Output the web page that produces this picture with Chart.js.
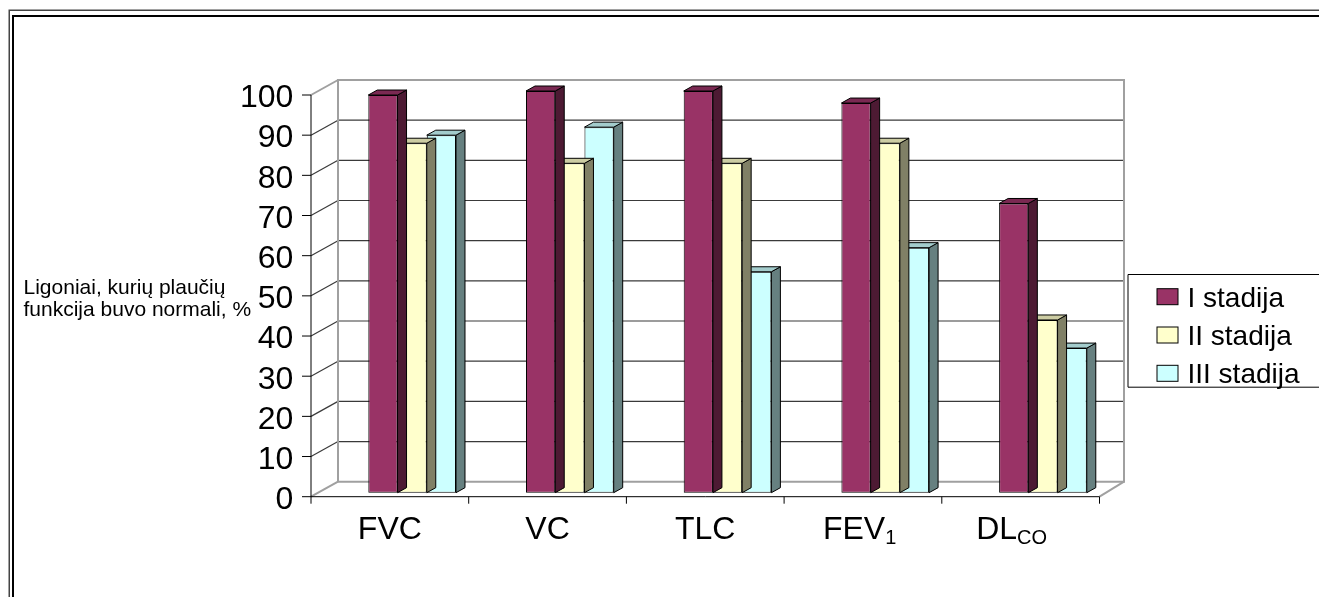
<!DOCTYPE html>
<html>
<head>
<meta charset="utf-8">
<script src="https://cdn.jsdelivr.net/npm/chart.js@4.4.0/dist/chart.umd.min.js"></script>
<style>
  html, body { margin: 0; padding: 0; background: #ffffff; }
  #wrap { width: 1319px; height: 597px; position: relative; }
</style>
</head>
<body>
<div id="wrap"><canvas id="c" width="1319" height="597"></canvas></div>
<script>
// ---- data ----
const categories = ['FVC', 'VC', 'TLC', 'FEV1', 'DLCO'];
const labelMain  = ['FVC', 'VC', 'TLC', 'FEV', 'DL'];
const labelSub   = ['', '', '', '1', 'CO'];
const seriesNames = ['I stadija', 'II stadija', 'III stadija'];
const stageI   = [99, 100, 100, 97, 72];
const stageII  = [87, 82, 82, 87, 43];
const stageIII = [89, 91, 55, 61, 36];
const yTicks = [0, 10, 20, 30, 40, 50, 60, 70, 80, 90, 100];
const axisTitleLines = ['Ligoniai, kurių plaučių', 'funkcija buvo normali, %'];

// ---- styling ----
const FONT = "'Liberation Sans', Arial, Helvetica, sans-serif";
const faces = [
  { front: '#993366', side: '#4D1A33', top: '#7A2952' },
  { front: '#FFFFCC', side: '#808066', top: '#CCCCA3' },
  { front: '#CCFFFF', side: '#668080', top: '#A3CCCC' }
];
const BAR_DEPTH = { dx: 9, dy: 5 };          // receding faces of each column
const FRONT = { dx: -22.3, dy: 4 };           // front axis plane relative to the bar plane
const BACK = { dxl: 4.7, dxr: 2.2, dy: -11 }; // back wall relative to the bar plane
const WALL_GREY = '#a0a0a0';
const GRID = '#3a3a3a';

function line(ctx, x1, y1, x2, y2) {
  ctx.beginPath(); ctx.moveTo(x1, y1); ctx.lineTo(x2, y2); ctx.stroke();
}
function poly(ctx, pts, fill) {
  ctx.beginPath();
  ctx.moveTo(pts[0][0], pts[0][1]);
  for (let i = 1; i < pts.length; i++) ctx.lineTo(pts[i][0], pts[i][1]);
  ctx.closePath();
  ctx.fillStyle = fill; ctx.fill();
  ctx.strokeStyle = '#000'; ctx.lineWidth = 1; ctx.stroke();
}

// Walls, gridlines and the front axes of the 3-D box
const box3d = {
  id: 'box3d',
  beforeDatasetsDraw(chart) {
    const { ctx, chartArea: a, scales: { x, y } } = chart;
    const yf = v => y.getPixelForValue(v) + FRONT.dy;
    const yb = v => y.getPixelForValue(v) + BACK.dy;
    const fl = a.left + FRONT.dx, fr = a.right + FRONT.dx;
    const bl = a.left + BACK.dxl, br = a.right + BACK.dxr;
    const top = yTicks[yTicks.length - 1], bottom = yTicks[0];
    ctx.save();
    // inner gridlines: back wall and left wall
    ctx.strokeStyle = GRID; ctx.lineWidth = 1.2;
    yTicks.forEach(v => {
      if (v === top || v === bottom) return;
      line(ctx, bl, yb(v), br, yb(v));
      line(ctx, fl, yf(v), bl, yb(v));
    });
    // wall edges
    ctx.strokeStyle = WALL_GREY; ctx.lineWidth = 2;
    ctx.beginPath();
    ctx.moveTo(bl, yb(top)); ctx.lineTo(br, yb(top)); ctx.lineTo(br, yb(bottom));
    ctx.lineTo(bl, yb(bottom)); ctx.closePath(); ctx.stroke();
    line(ctx, fl, yf(top), bl, yb(top));
    line(ctx, fl, yf(bottom), bl, yb(bottom));
    line(ctx, fr, yf(bottom), br, yb(bottom));
    // front axes with tick marks
    ctx.strokeStyle = '#000'; ctx.lineWidth = 1;
    line(ctx, fl, yf(top), fl, yf(bottom));
    line(ctx, fl, yf(bottom), fr, yf(bottom));
    yTicks.forEach(v => line(ctx, fl - 9, yf(v), fl, yf(v)));
    for (let i = 0; i <= categories.length; i++) {
      const bx = x.getPixelForValue(i - 0.5) + FRONT.dx;
      line(ctx, bx, yf(bottom), bx, yf(bottom) + 7);
    }
    ctx.restore();
  },
  afterDatasetDraw(chart, args) {
    const { ctx } = chart;
    const c = faces[args.index];
    ctx.save();
    args.meta.data.forEach(el => {
      const { x, y, base, width } = el.getProps(['x', 'y', 'base', 'width'], true);
      const l = x - width / 2, r = x + width / 2;
      const dx = BAR_DEPTH.dx, dy = BAR_DEPTH.dy;
      poly(ctx, [[r, y], [r + dx, y - dy], [r + dx, base - dy], [r, base]], c.side);
      poly(ctx, [[l, y], [l + dx, y - dy], [r + dx, y - dy], [r, y]], c.top);
    });
    ctx.restore();
  },
  afterDraw(chart) {
    const { ctx, chartArea: a, scales: { x } } = chart;
    ctx.save();
    ctx.fillStyle = '#000';
    ctx.textBaseline = 'alphabetic';

    // category labels with subscripts
    const mainSize = 32, subSize = 20;
    const baseY = 538.5;
    categories.forEach((cat, i) => {
      const cx = x.getPixelForValue(i) + FRONT.dx;
      ctx.font = mainSize + 'px ' + FONT;
      const full = ctx.measureText(labelMain[i] + labelSub[i]).width;
      const mw = ctx.measureText(labelMain[i]).width;
      const sx = cx - full / 2;
      ctx.textAlign = 'left';
      ctx.fillText(labelMain[i], sx, baseY);
      if (labelSub[i]) {
        ctx.font = subSize + 'px ' + FONT;
        ctx.fillText(labelSub[i], sx + mw, baseY + 5);
      }
    });

    // value axis title, written horizontally
    ctx.font = '21px ' + FONT;
    ctx.textAlign = 'left';
    ctx.fillText(axisTitleLines[0], 23.5, 294);
    ctx.fillText(axisTitleLines[1], 23.5, 315.5);

    // legend
    const lgLeft = a.right + 5.7, lgTop = 274, lgBottom = 386.7;
    ctx.strokeStyle = '#000'; ctx.lineWidth = 1;
    ctx.beginPath();
    ctx.moveTo(chart.width + 5, lgTop + 0.5);
    ctx.lineTo(lgLeft + 0.5, lgTop + 0.5);
    ctx.lineTo(lgLeft + 0.5, lgBottom + 0.5);
    ctx.lineTo(chart.width + 5, lgBottom + 0.5);
    ctx.stroke();
    const rowY = [296.7, 335, 373.3];
    ctx.font = '28px ' + FONT;
    seriesNames.forEach((name, i) => {
      const cy = rowY[i];
      ctx.fillStyle = faces[i].front;
      ctx.fillRect(lgLeft + 29.5, cy - 8, 21, 16);
      ctx.strokeRect(lgLeft + 29.5, cy - 8, 21, 16);
      ctx.fillStyle = '#000';
      ctx.fillText(name, lgLeft + 60, cy + 10);
    });

    // double frame around the whole figure
    ctx.strokeStyle = '#444'; ctx.lineWidth = 1.5;
    ctx.strokeRect(9.25, 10.25, chart.width + 20, chart.height + 20);
    ctx.strokeStyle = '#000'; ctx.lineWidth = 2;
    ctx.strokeRect(13, 16, chart.width + 20, chart.height + 20);
    ctx.restore();
  }
};

const datasets = [stageI, stageII, stageIII].map((values, i) => ({
  label: seriesNames[i],
  data: values,
  backgroundColor: faces[i].front,
  borderColor: '#000',
  borderWidth: 1,
  borderSkipped: false,
  categoryPercentage: 0.556,
  barPercentage: 1,
  clip: false
}));

new Chart(document.getElementById('c'), {
  type: 'bar',
  data: { labels: categories, datasets },
  options: {
    responsive: false,
    animation: false,
    events: [],
    layout: { padding: { left: 233.3, right: 197.2, top: 91, bottom: 104.3 } },
    plugins: { legend: { display: false }, tooltip: { enabled: false } },
    scales: {
      x: { display: false },
      y: {
        min: 0, max: 100,
        afterFit(scale) { scale.width = 100; },
        afterBuildTicks(scale) { scale.ticks = yTicks.map(v => ({ value: v })); },
        grid: { display: false, drawTicks: false },
        border: { display: false },
        ticks: {
          autoSkip: false,
          padding: 40,
          labelOffset: 7.5,
          color: '#000',
          font: { family: FONT, size: 32 }
        }
      }
    }
  },
  plugins: [box3d]
});
</script>
</body>
</html>
